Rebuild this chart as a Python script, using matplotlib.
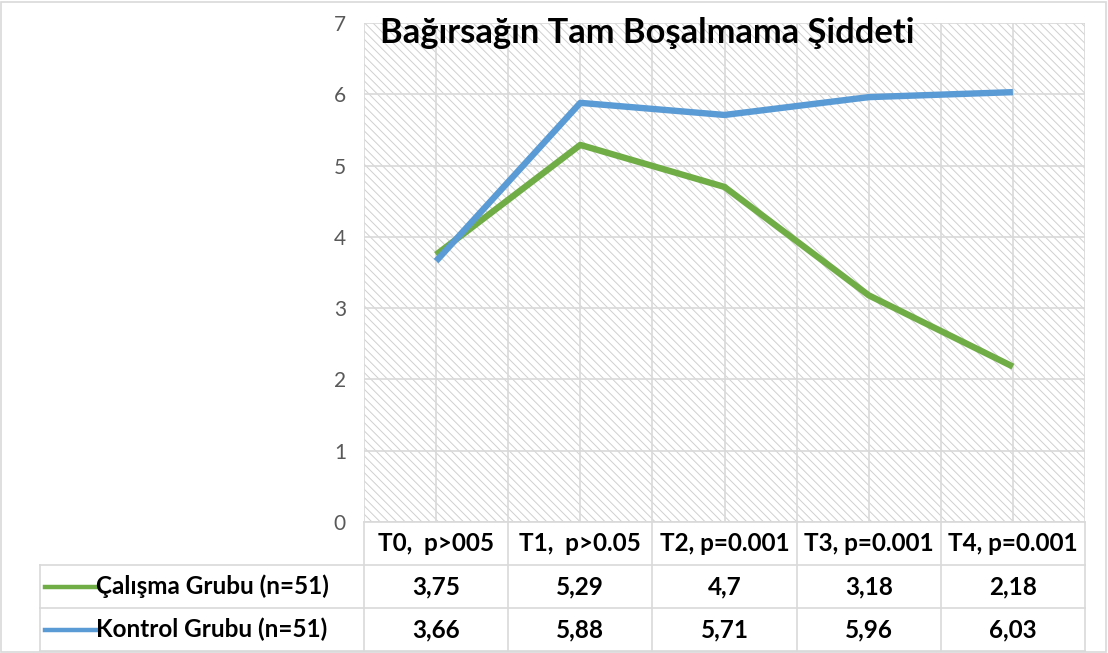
import matplotlib.pyplot as plt
import matplotlib.transforms as mtransforms
from matplotlib.lines import Line2D
from matplotlib.patches import Rectangle

plt.rcParams['font.family'] = ['Lato', 'DejaVu Sans']
plt.rcParams['hatch.color'] = '#d0d0d0'
plt.rcParams['hatch.linewidth'] = 0.7

# --- dati ---
titolo = "Bağırsağın Tam Boşalmama Şiddeti"
tempi = ["T0,  p>005", "T1,  p>0.05", "T2, p=0.001", "T3, p=0.001", "T4, p=0.001"]
serie_nomi = ["Çalışma Grubu (n=51)", "Kontrol Grubu (n=51)"]
calisma = [3.75, 5.29, 4.7, 3.18, 2.18]
kontrol = [3.66, 5.88, 5.71, 5.96, 6.03]
colori = ["#70ad47", "#5b9bd5"]

W, H = 1108, 653
fig = plt.figure(figsize=(W / 100, H / 100), dpi=100)
ax = fig.add_axes([364 / W, 1 - 522 / H, 721 / W, 499 / H])

grid_c = '#d9d9d9'
n = len(tempi)
ax.set_xlim(-0.5, n - 0.5)
ax.set_ylim(0, 7)

# sfondo tratteggiato
ax.add_patch(Rectangle((0, 0), 1, 1, transform=ax.transAxes, facecolor='white',
                       hatch='\\' * 4, edgecolor='#d0d0d0', linewidth=0, zorder=0))

# griglia
for y in range(0, 8):
    ax.axhline(y, color=grid_c, lw=1.2, zorder=1)
for i in range(n + 1):
    ax.axvline(i - 0.5, color=grid_c, lw=1.2, zorder=1)
    if i < n:
        ax.axvline(i, color=grid_c, lw=1.2, zorder=1)

xs = list(range(n))
ax.plot(xs, calisma, color=colori[0], lw=4.6, solid_capstyle='butt', zorder=3)
ax.plot(xs, kontrol, color=colori[1], lw=4.6, solid_capstyle='butt', zorder=4)

for s in ax.spines.values():
    s.set_visible(False)
ax.set_xticks([])
ax.set_yticks(range(0, 8))
ax.tick_params(axis='y', length=0, pad=13, labelsize=15, labelcolor='#595959')

ax.text(380 / W, 1 - 33 / H, titolo, transform=fig.transFigure, fontsize=24.8,
        fontweight='bold', ha='left', va='center', zorder=5)

# --- tabella dati ---
tr = mtransforms.blended_transform_factory(ax.transData, ax.transAxes)
rh = 43 / 499
righe = [0, -rh, -2 * rh, -3 * rh]
x_lab = -0.5 - (364 - 40) / (721 / n)
fs = 17.5

def hline(x0, x1, y):
    ax.add_line(Line2D([x0, x1], [y, y], transform=tr, color=grid_c, lw=1.2, clip_on=False))

def vline(x, y0, y1):
    ax.add_line(Line2D([x, x], [y0, y1], transform=tr, color=grid_c, lw=1.2, clip_on=False))

hline(-0.5, n - 0.5, righe[0])
for y in righe[1:]:
    hline(x_lab, n - 0.5, y)
for i in range(n + 1):
    vline(i - 0.5, righe[0], righe[3])
vline(x_lab, righe[1], righe[3])

for i, t in enumerate(tempi):
    ax.text(i, (righe[0] + righe[1]) / 2, t, transform=tr, ha='center', va='center',
            fontsize=fs, fontweight='bold', clip_on=False)

for r, (nome, vals) in enumerate(zip(serie_nomi, [calisma, kontrol])):
    yc = (righe[r + 1] + righe[r + 2]) / 2
    xl0 = x_lab + 5 / (721 / n)
    xl1 = x_lab + 56 / (721 / n)
    ax.add_line(Line2D([xl0, xl1], [yc, yc], transform=tr, color=colori[r], lw=3.2,
                       clip_on=False))
    ax.text(xl1, yc, nome, transform=tr, ha='left', va='center', fontsize=fs,
            fontweight='bold', clip_on=False)
    for i, v in enumerate(vals):
        ax.text(i, yc, str(v).replace('.', ','), transform=tr, ha='center', va='center',
                fontsize=fs, fontweight='bold', clip_on=False)

# bordo esterno
fig.add_artist(Rectangle((1 / W, 1 / H), (W - 3) / W, (H - 3) / H, transform=fig.transFigure,
                         fill=False, edgecolor='#d9d9d9', lw=1.2))

fig.savefig('out.png', dpi=100)
